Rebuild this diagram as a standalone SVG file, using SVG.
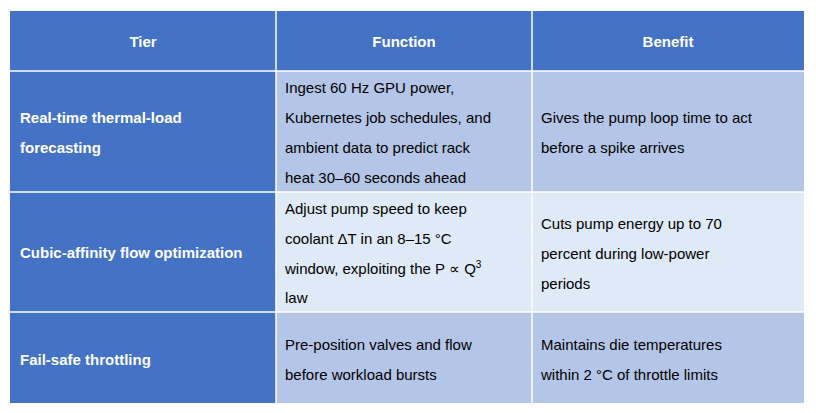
<svg xmlns="http://www.w3.org/2000/svg" width="816" height="413" viewBox="0 0 816 413">
<style>
text{font-family:"Liberation Sans",Arial,sans-serif;font-size:15px;fill:#000}
.h{fill:#fff;font-weight:bold}
.dk{fill:#4472C4}.l1{fill:#B4C6E7}.l2{fill:#DEEAF6}
line{stroke:#fff;stroke-width:1.5}
</style>
<rect width="816" height="413" fill="#fff"/>
<g id="header">
<rect class="dk" x="10" y="11" width="794" height="60"/>
<text class="h" x="143" y="47" text-anchor="middle">Tier</text>
<text class="h" x="404" y="47" text-anchor="middle">Function</text>
<text class="h" x="668" y="47" text-anchor="middle">Benefit</text>
</g>
<g id="row1">
<rect class="dk" x="10" y="71" width="266" height="121"/>
<rect class="l1" x="276" y="71" width="528" height="121"/>
<text class="h" x="20" y="123">Real-time thermal-load</text>
<text class="h" x="20" y="153">forecasting</text>
<text x="285" y="93">Ingest 60 Hz GPU power,</text>
<text x="285" y="123">Kubernetes job schedules, and</text>
<text x="285" y="153">ambient data to predict rack</text>
<text x="285" y="183">heat 30–60 seconds ahead</text>
<text x="541" y="123">Gives the pump loop time to act</text>
<text x="541" y="153">before a spike arrives</text>
</g>
<g id="row2">
<rect class="dk" x="10" y="192" width="266" height="120"/>
<rect class="l2" x="276" y="192" width="528" height="120"/>
<text class="h" x="20" y="258">Cubic-affinity flow optimization</text>
<text x="285" y="214">Adjust pump speed to keep</text>
<text x="285" y="244">coolant ΔT in an 8–15 °C</text>
<text x="285" y="274">window, exploiting the P ∝ Q<tspan dy="-6" font-size="10">3</tspan></text>
<text x="285" y="303">law</text>
<text x="541" y="229">Cuts pump energy up to 70</text>
<text x="541" y="259">percent during low-power</text>
<text x="541" y="289">periods</text>
</g>
<g id="row3">
<rect class="dk" x="10" y="312" width="266" height="91"/>
<rect class="l1" x="276" y="312" width="528" height="91"/>
<text class="h" x="20" y="365">Fail-safe throttling</text>
<text x="285" y="350">Pre-position valves and flow</text>
<text x="285" y="380">before workload bursts</text>
<text x="541" y="350">Maintains die temperatures</text>
<text x="541" y="380">within 2 °C of throttle limits</text>
</g>
<g id="connectors">
<line x1="276" y1="11" x2="276" y2="403"/>
<line x1="532" y1="11" x2="532" y2="403"/>
<line x1="10" y1="71" x2="804" y2="71"/>
<line x1="10" y1="192" x2="804" y2="192"/>
<line x1="10" y1="312" x2="804" y2="312"/>
</g>
</svg>
